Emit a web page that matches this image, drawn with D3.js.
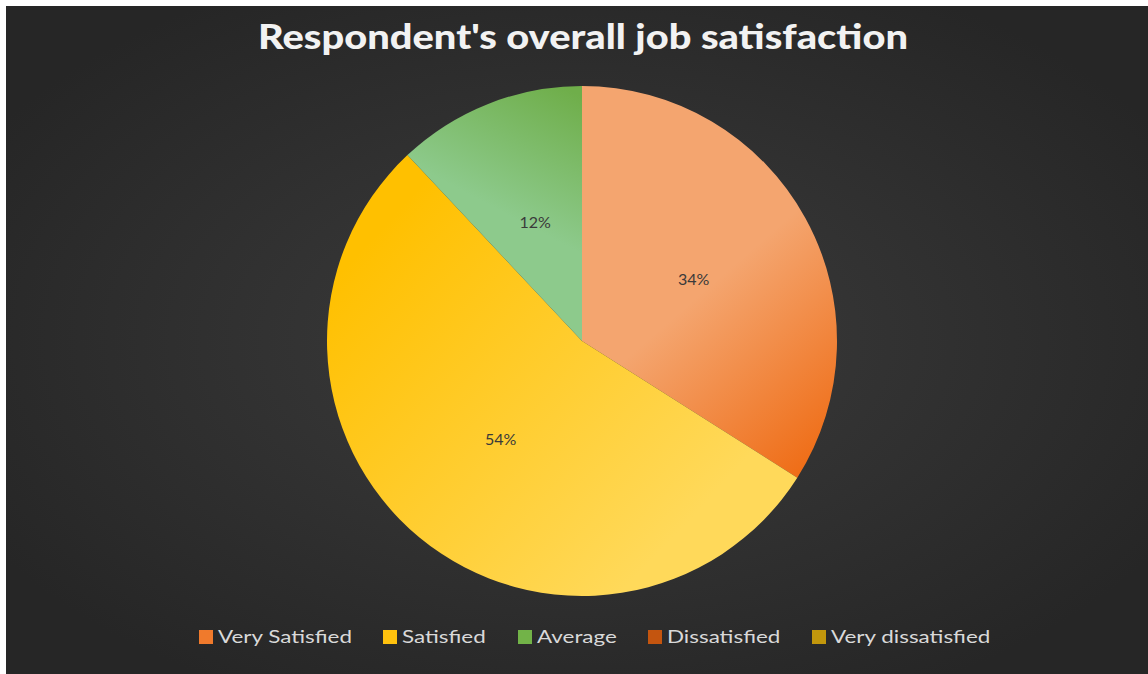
<!DOCTYPE html>
<html>
<head>
<meta charset="utf-8">
<script src="https://cdn.jsdelivr.net/npm/d3@7/dist/d3.min.js"></script>
<style>
  html, body { margin: 0; padding: 0; background: #ffffff; }
  svg { display: block; }
</style>
</head>
<body>
<svg id="chart" width="1148" height="674"></svg>
<script>
// Survey responses: share of respondents per satisfaction level
const categories = ["Very Satisfied", "Satisfied", "Average", "Dissatisfied", "Very dissatisfied"];
const shares = [34, 54, 12, 0, 0];
const labels = ["34%", "54%", "12%", "", ""];

// Per-category fills: light and deep tones for the slice gradients, plus swatch colour
const lightColors = ["#f4a56f", "#ffd95a", "#8dca8c", "#c55a11", "#bf9000"];
const darkColors  = ["#ef6e18", "#ffc000", "#6fae4a", "#c55a11", "#bf9000"];
const swatchColors = ["#f07a2c", "#ffc20e", "#72b348", "#c4550f", "#c2970c"];

const W = 1148, H = 674;
const svg = d3.select("#chart");
const defs = svg.append("defs");

// Dark chart area with soft lighter centre
const bg = defs.append("radialGradient").attr("id", "bg")
  .attr("cx", "50%").attr("cy", "50%").attr("r", "60%");
bg.append("stop").attr("offset", "0%").attr("stop-color", "#3c3c3c");
bg.append("stop").attr("offset", "100%").attr("stop-color", "#262626");

svg.append("rect").attr("x", 6).attr("y", 6).attr("width", W - 6).attr("height", H - 6)
  .attr("fill", "url(#bg)");

// Title
svg.append("text")
  .attr("x", 583).attr("y", 49)
  .attr("text-anchor", "middle")
  .attr("font-family", "Lato, 'Open Sans', sans-serif")
  .attr("font-weight", 900)
  .attr("font-size", 34)
  .attr("fill", "#f2f2f2")
  .attr("textLength", 650)
  .attr("lengthAdjust", "spacingAndGlyphs")
  .text("Respondent's overall job satisfaction");

// Pie
const cx = 582, cy = 341, radius = 255;
const data = categories.map((c, i) => ({ name: c, value: shares[i], label: labels[i], i }));

const pie = d3.pie().value(d => d.value).sort(null);
const arc = d3.arc().innerRadius(0).outerRadius(radius);
const labelArc = d3.arc().innerRadius(radius * 0.5).outerRadius(radius * 0.5);

const arcs = pie(data);

// Gradient vectors in the pie group's local space (origin at the pie centre)
const gradientEnds = [
  [40, -120, 240, 110],   // orange: light top, deep lower-right rim
  [-250, -60, 60, 230],   // yellow: deep left, light lower-right
  [-110, -60, -10, -250]  // green: light lower-left, deeper at top
];
arcs.forEach(a => {
  if (a.data.i > 2) return;
  const [x1, y1, x2, y2] = gradientEnds[a.data.i];
  const g = defs.append("linearGradient")
    .attr("id", "slice" + a.data.i)
    .attr("gradientUnits", "userSpaceOnUse")
    .attr("x1", x1).attr("y1", y1).attr("x2", x2).attr("y2", y2);
  if (a.data.i === 1) {
    g.append("stop").attr("offset", "0%").attr("stop-color", darkColors[1]);
    g.append("stop").attr("offset", "100%").attr("stop-color", lightColors[1]);
  } else {
    g.append("stop").attr("offset", "0%").attr("stop-color", lightColors[a.data.i]);
    g.append("stop").attr("offset", "35%").attr("stop-color", lightColors[a.data.i]);
    g.append("stop").attr("offset", "100%").attr("stop-color", darkColors[a.data.i]);
  }
});

const pieG = svg.append("g").attr("transform", `translate(${cx},${cy})`);
pieG.selectAll("path.slice")
  .data(arcs.filter(a => a.data.value > 0))
  .join("path")
  .attr("class", "slice")
  .attr("d", arc)
  .attr("fill", d => `url(#slice${d.data.i})`)
  .attr("stroke", "none");

pieG.selectAll("text.pct")
  .data(arcs.filter(a => a.data.value > 0))
  .join("text")
  .attr("class", "pct")
  .attr("transform", d => {
    const [x, y] = labelArc.centroid(d);
    return `translate(${x},${y})`;
  })
  .attr("text-anchor", "middle")
  .attr("dy", "0.35em")
  .attr("font-family", "Lato, 'Open Sans', sans-serif")
  .attr("font-size", 16)
  .attr("fill", "#3a3a3a")
  .text(d => d.data.label);

// Legend along the bottom
const legend = svg.append("g").attr("font-family", "Lato, 'Open Sans', sans-serif")
  .attr("font-size", 17).attr("fill", "#d9d9d9");
const legendX = [199, 383, 518, 648, 812];
categories.forEach((c, i) => {
  const g = legend.append("g").attr("transform", `translate(${legendX[i]},630)`);
  g.append("rect").attr("width", 14).attr("height", 14).attr("fill", swatchColors[i]);
  g.append("text").attr("transform", "translate(19,13) scale(1.32,1)").text(c);
});
</script>
</body>
</html>
